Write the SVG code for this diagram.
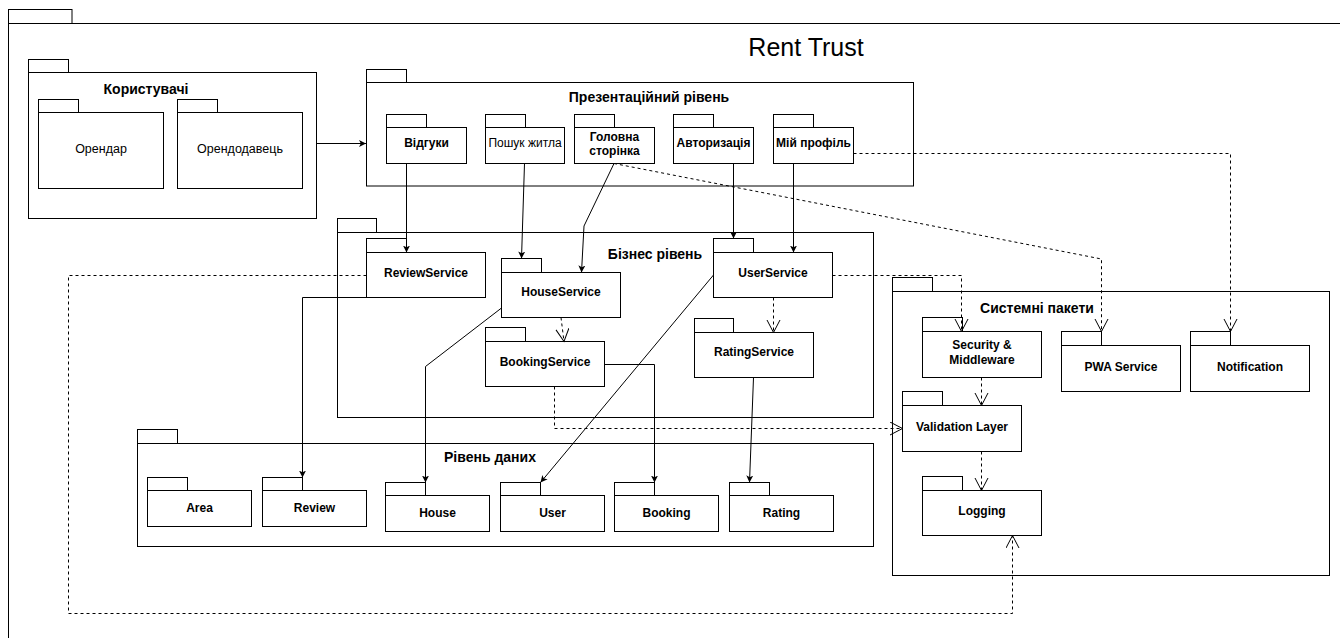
<svg xmlns="http://www.w3.org/2000/svg" width="1340" height="638" viewBox="0 0 1340 638">
<style>
.pk{fill:#fff;stroke:#000;stroke-width:1}
.t{font-family:"Liberation Sans",Arial,sans-serif;font-size:12px;font-weight:bold;text-anchor:middle;fill:#000}
.tn{font-weight:normal}
.h{font-size:14px}
.ttl{font-family:"Liberation Sans",Arial,sans-serif;font-size:25px;text-anchor:middle;fill:#000}
.c{fill:none;stroke:#000;stroke-width:1}
.s{marker-end:url(#fa)}
.d{stroke-dasharray:3 3;marker-end:url(#oa)}
</style>
<defs>
<marker id="fa" markerUnits="userSpaceOnUse" markerWidth="9" markerHeight="9" refX="7" refY="3.5" orient="auto"><path d="M0,0 L7,3.5 L0,7 L1.8,3.5 z" fill="#000" stroke="none"/></marker>
<marker id="oa" markerUnits="userSpaceOnUse" markerWidth="15" markerHeight="16" refX="13" refY="7" orient="auto"><path d="M0.5,0.5 L13,7 L0.5,13.5" fill="none" stroke="#000" stroke-width="1" stroke-dasharray="none"/></marker>
</defs>
<rect width="1340" height="638" fill="#fff"/>
<g id="frame">
<rect class="pk" x="8.5" y="9.5" width="63.5" height="14"/>
<rect class="pk" x="8.5" y="23.5" width="1340" height="700"/>
<text class="ttl" x="806" y="56">Rent Trust</text>
</g>
<g id="users">
<rect class="pk" x="28.5" y="59.5" width="40" height="13"/>
<rect class="pk" x="28.5" y="72.5" width="288" height="146"/>
<text class="t h" x="146" y="94">Користувачі</text>
</g>
<g id="orendar">
<rect class="pk" x="38.5" y="99.5" width="40" height="13"/>
<rect class="pk" x="38.5" y="112.5" width="125" height="76"/>
<text class="t tn" x="101" y="153" style="font-size:12.5px">Орендар</text>
</g>
<g id="orendodavets">
<rect class="pk" x="177.5" y="99.5" width="40" height="13"/>
<rect class="pk" x="177.5" y="112.5" width="125" height="76"/>
<text class="t tn" x="240" y="153" style="font-size:12.5px">Орендодавець</text>
</g>
<g id="presentation">
<rect class="pk" x="366.5" y="69.5" width="40" height="13"/>
<rect class="pk" x="366.5" y="82.5" width="547" height="103.5"/>
<text class="t h" x="649" y="102">Презентаційний рівень</text>
</g>
<g id="vidguky">
<rect class="pk" x="386.5" y="114.5" width="40" height="13"/>
<rect class="pk" x="386.5" y="127.5" width="80" height="36"/>
<text class="t" x="426.5" y="147">Відгуки</text>
</g>
<g id="poshuk">
<rect class="pk" x="485.5" y="114.5" width="40" height="13"/>
<rect class="pk" x="485.5" y="127.5" width="79" height="36"/>
<text class="t tn" x="525" y="147">Пошук житла</text>
</g>
<g id="golovna">
<rect class="pk" x="574.5" y="114.5" width="40" height="13"/>
<rect class="pk" x="574.5" y="127.5" width="80" height="36"/>
<text class="t" x="614.5" y="140.5">Головна</text>
<text class="t" x="614.5" y="155">сторінка</text>
</g>
<g id="avtoryzatsiya">
<rect class="pk" x="673.5" y="114.5" width="40" height="13"/>
<rect class="pk" x="673.5" y="127.5" width="80" height="36"/>
<text class="t" x="713.5" y="147">Авторизація</text>
</g>
<g id="profil">
<rect class="pk" x="773.5" y="114.5" width="40" height="13"/>
<rect class="pk" x="773.5" y="127.5" width="80" height="36"/>
<text class="t" x="813.5" y="147">Мій профіль</text>
</g>
<g id="business">
<rect class="pk" x="337.5" y="218.5" width="39" height="14"/>
<rect class="pk" x="337.5" y="232.5" width="536" height="185"/>
<text class="t h" x="655" y="259">Бізнес рівень</text>
</g>
<g id="reviewservice">
<rect class="pk" x="366.5" y="238.5" width="40" height="14"/>
<rect class="pk" x="366.5" y="252.5" width="119" height="45"/>
<text class="t" x="426" y="276.5">ReviewService</text>
</g>
<g id="houseservice">
<rect class="pk" x="501.5" y="258.5" width="40" height="14"/>
<rect class="pk" x="501.5" y="272.5" width="119" height="45"/>
<text class="t" x="561" y="296">HouseService</text>
</g>
<g id="bookingservice">
<rect class="pk" x="485.5" y="327.5" width="40" height="14"/>
<rect class="pk" x="485.5" y="341.5" width="119" height="45"/>
<text class="t" x="545" y="366">BookingService</text>
</g>
<g id="userservice">
<rect class="pk" x="713.5" y="238.5" width="40" height="14"/>
<rect class="pk" x="713.5" y="252.5" width="119" height="45"/>
<text class="t" x="773" y="276.5">UserService</text>
</g>
<g id="ratingservice">
<rect class="pk" x="694.5" y="318.5" width="39" height="14"/>
<rect class="pk" x="694.5" y="332.5" width="119" height="45"/>
<text class="t" x="754" y="356">RatingService</text>
</g>
<g id="data">
<rect class="pk" x="137.5" y="429.5" width="40" height="14"/>
<rect class="pk" x="137.5" y="443.5" width="736" height="103"/>
<text class="t h" x="490" y="462">Рівень даних</text>
</g>
<g id="area">
<rect class="pk" x="147.5" y="477.5" width="40" height="13"/>
<rect class="pk" x="147.5" y="490.5" width="104" height="36"/>
<text class="t" x="199.5" y="512">Area</text>
</g>
<g id="review">
<rect class="pk" x="262.5" y="477.5" width="40" height="13"/>
<rect class="pk" x="262.5" y="490.5" width="104" height="36"/>
<text class="t" x="314.5" y="512">Review</text>
</g>
<g id="house">
<rect class="pk" x="385.5" y="482.5" width="40" height="13"/>
<rect class="pk" x="385.5" y="495.5" width="104" height="36"/>
<text class="t" x="437.5" y="517">House</text>
</g>
<g id="user">
<rect class="pk" x="500.5" y="482.5" width="40" height="13"/>
<rect class="pk" x="500.5" y="495.5" width="104" height="36"/>
<text class="t" x="552.5" y="517">User</text>
</g>
<g id="booking">
<rect class="pk" x="614.5" y="482.5" width="40" height="13"/>
<rect class="pk" x="614.5" y="495.5" width="104" height="36"/>
<text class="t" x="666.5" y="517">Booking</text>
</g>
<g id="rating">
<rect class="pk" x="729.5" y="482.5" width="40" height="13"/>
<rect class="pk" x="729.5" y="495.5" width="104" height="36"/>
<text class="t" x="781.5" y="517">Rating</text>
</g>
<g id="system">
<rect class="pk" x="892.5" y="277.5" width="40" height="14"/>
<rect class="pk" x="892.5" y="291.5" width="437" height="284"/>
<text class="t h" x="1037" y="313">Системні пакети</text>
</g>
<g id="security">
<rect class="pk" x="922.5" y="317.5" width="40" height="14"/>
<rect class="pk" x="922.5" y="331.5" width="119" height="46"/>
<text class="t" x="982" y="348.5">Security &amp;</text>
<text class="t" x="982" y="363.5">Middleware</text>
</g>
<g id="pwa">
<rect class="pk" x="1061.5" y="331.5" width="40" height="14"/>
<rect class="pk" x="1061.5" y="345.5" width="119" height="46"/>
<text class="t" x="1121" y="371">PWA Service</text>
</g>
<g id="notification">
<rect class="pk" x="1190.5" y="331.5" width="40" height="14"/>
<rect class="pk" x="1190.5" y="345.5" width="119" height="46"/>
<text class="t" x="1250" y="371">Notification</text>
</g>
<g id="validation">
<rect class="pk" x="902.5" y="391.5" width="40" height="14"/>
<rect class="pk" x="902.5" y="405.5" width="119" height="46"/>
<text class="t" x="962" y="430.5">Validation Layer</text>
</g>
<g id="logging">
<rect class="pk" x="922.5" y="476.5" width="40" height="14"/>
<rect class="pk" x="922.5" y="490.5" width="119" height="45"/>
<text class="t" x="982" y="515">Logging</text>
</g>
<g id="connectors">
<path class="c s" d="M316.5,143.5 H366"/>
<path class="c s" d="M406.5,163.5 V252.5"/>
<path class="c s" d="M524.5,163.5 L521.5,258.5"/>
<path class="c s" d="M614,163.5 L584,226 L581.5,272.5"/>
<path class="c s" d="M733.5,163.5 V238.5"/>
<path class="c s" d="M793.5,163.5 V252.5"/>
<path class="c s" d="M366.5,297.5 H302.5 V477.5"/>
<path class="c s" d="M501.5,308 L425.5,366.5 V482.5"/>
<path class="c s" d="M713.5,275 L540.5,482.5"/>
<path class="c s" d="M604.5,364.5 H654.5 V482.5"/>
<path class="c s" d="M753.5,377.5 L749.5,482.5"/>
<path class="c d" d="M561,317.5 L564,341.5"/>
<path class="c d" d="M773.5,297.5 V332.5"/>
<path class="c d" d="M832.5,275.5 H961.5 V331.5"/>
<path class="c d" d="M614,163.5 L1101.5,259 V331.5"/>
<path class="c d" d="M853.5,153.5 H1230.5 V331.5"/>
<path class="c d" d="M981.5,377.5 V405.5"/>
<path class="c d" d="M981.5,451.5 V490.5"/>
<path class="c d" d="M554.5,386.5 V428.5 H902.5"/>
<path class="c d" d="M366.5,275.5 H68.5 V613.5 H1012.5 V535.5"/>
</g>
</svg>
